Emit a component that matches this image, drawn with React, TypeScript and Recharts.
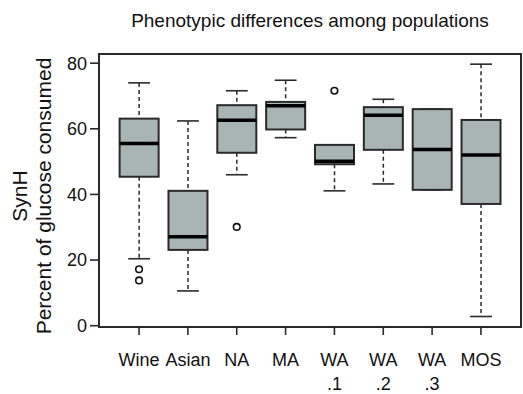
import { ComposedChart, Bar, Scatter, XAxis, YAxis, ReferenceArea } from 'recharts'

const categories = ['Wine', 'Asian', 'NA', 'MA', 'WA\n.1', 'WA\n.2', 'WA\n.3', 'MOS']
const whiskerLow = [20.4, 10.6, 46.0, 57.3, 41.1, 43.2, 41.4, 2.8]
const lowerQuartile = [45.4, 23.1, 52.7, 59.8, 49.2, 53.6, 41.4, 37.1]
const medians = [55.5, 27.1, 62.6, 67.0, 50.1, 64.1, 53.7, 52.0]
const upperQuartile = [63.1, 41.1, 67.2, 68.2, 55.1, 66.6, 66.0, 62.7]
const whiskerHigh = [74.0, 62.4, 71.6, 74.8, 55.1, 69.0, 66.0, 79.7]
// [category position, value]
const outliers = [
  [1, 17.2],
  [1, 13.8],
  [3, 30.1],
  [5, 71.6],
]
const yTicks = [0, 20, 40, 60, 80]

const FILL = '#a8b5b2'
const INK = '#2a2a2a'
const FONT = '"Liberation Sans", Arial, sans-serif'

const boxData = categories.map((name, i) => ({
  name,
  pos: i + 1,
  lo: whiskerLow[i],
  q1: lowerQuartile[i],
  med: medians[i],
  q3: upperQuartile[i],
  hi: whiskerHigh[i],
}))

const outlierData = outliers.map(([pos, value]) => ({ pos, value }))

function BoxShape(props: any) {
  const { x, y, width, height, payload } = props
  const { lo, q1, med, q3, hi } = payload
  const span = hi - lo
  const py = (v: number) => y + ((hi - v) / span) * height
  const cx = x + width / 2
  const cap = width * 0.28
  return (
    <g>
      <line x1={cx} x2={cx} y1={py(hi)} y2={py(q3)} stroke={INK} strokeWidth={1.5} strokeDasharray="4 3" />
      <line x1={cx} x2={cx} y1={py(q1)} y2={py(lo)} stroke={INK} strokeWidth={1.5} strokeDasharray="4 3" />
      <line x1={cx - cap} x2={cx + cap} y1={py(hi)} y2={py(hi)} stroke={INK} strokeWidth={1.6} />
      <line x1={cx - cap} x2={cx + cap} y1={py(lo)} y2={py(lo)} stroke={INK} strokeWidth={1.6} />
      <rect x={x} y={py(q3)} width={width} height={py(q1) - py(q3)} fill={FILL} stroke={INK} strokeWidth={2} />
      <line x1={x} x2={x + width} y1={py(med)} y2={py(med)} stroke="#000" strokeWidth={3.5} />
    </g>
  )
}

function OutlierShape(props: any) {
  const { cx, cy } = props
  return <circle cx={cx} cy={cy} r={3.3} fill="none" stroke="#111" strokeWidth={1.6} />
}

function CategoryTick(props: any) {
  const { x, y, payload } = props
  const label = categories[Math.round(payload.value) - 1] ?? ''
  const lines = label.split('\n')
  return (
    <text x={x} y={y} textAnchor="middle" fontFamily={FONT} fontSize={18} fill="#111">
      {lines.map((line, i) => (
        <tspan key={i} x={x} dy={i === 0 ? 31 : 24}>
          {line}
        </tspan>
      ))}
    </text>
  )
}

function YTitle() {
  return (
    <g fontFamily={FONT} fontSize={21} fill="#111" textAnchor="middle">
      <text x={27} y={196} transform="rotate(-90 27 196)">
        SynH
      </text>
      <text x={51} y={196} transform="rotate(-90 51 196)">
        Percent of glucose consumed
      </text>
    </g>
  )
}

export default function App() {
  return (
    <div style={{ position: 'absolute', left: 0, top: 0, width: 523, height: 394, background: '#fff' }}>
      <svg width={523} height={40} style={{ position: 'absolute', left: 0, top: 0 }}>
        <text x={310} y={27} textAnchor="middle" fontFamily={FONT} fontSize={19} fill="#111">
          Phenotypic differences among populations
        </text>
      </svg>
      <svg width={80} height={394} style={{ position: 'absolute', left: 0, top: 0 }}>
        <YTitle />
      </svg>
      <div style={{ position: 'absolute', left: 0, top: 0 }}>
        <ComposedChart width={523} height={394} data={boxData} margin={{ top: 54, right: 2, bottom: 0, left: 0 }}>
          <ReferenceArea x1={0.18} x2={8.82} y1={-0.4} y2={82.8} fill="none" stroke={INK} strokeWidth={2} fillOpacity={0} />
          <XAxis
            type="number"
            dataKey="pos"
            domain={[0.18, 8.82]}
            ticks={[1, 2, 3, 4, 5, 6, 7, 8]}
            interval={0}
            allowDataOverflow
            height={67}
            axisLine={false}
            tickLine={{ stroke: INK, strokeWidth: 1.6 }}
            tickSize={8}
            tickMargin={0}
            tick={<CategoryTick />}
          />
          <YAxis
            type="number"
            domain={[-0.4, 82.8]}
            ticks={yTicks}
            interval={0}
            allowDataOverflow
            width={99}
            axisLine={false}
            tickLine={{ stroke: INK, strokeWidth: 1.6 }}
            tickSize={9}
            tickMargin={3}
            tick={{ fontFamily: FONT, fontSize: 18, fill: '#111' }}
          />
          <Bar dataKey={(d: any) => [d.lo, d.hi]} barSize={39} shape={<BoxShape />} isAnimationActive={false} />
          <Scatter data={outlierData} dataKey="value" shape={<OutlierShape />} isAnimationActive={false} />
        </ComposedChart>
      </div>
    </div>
  )
}
